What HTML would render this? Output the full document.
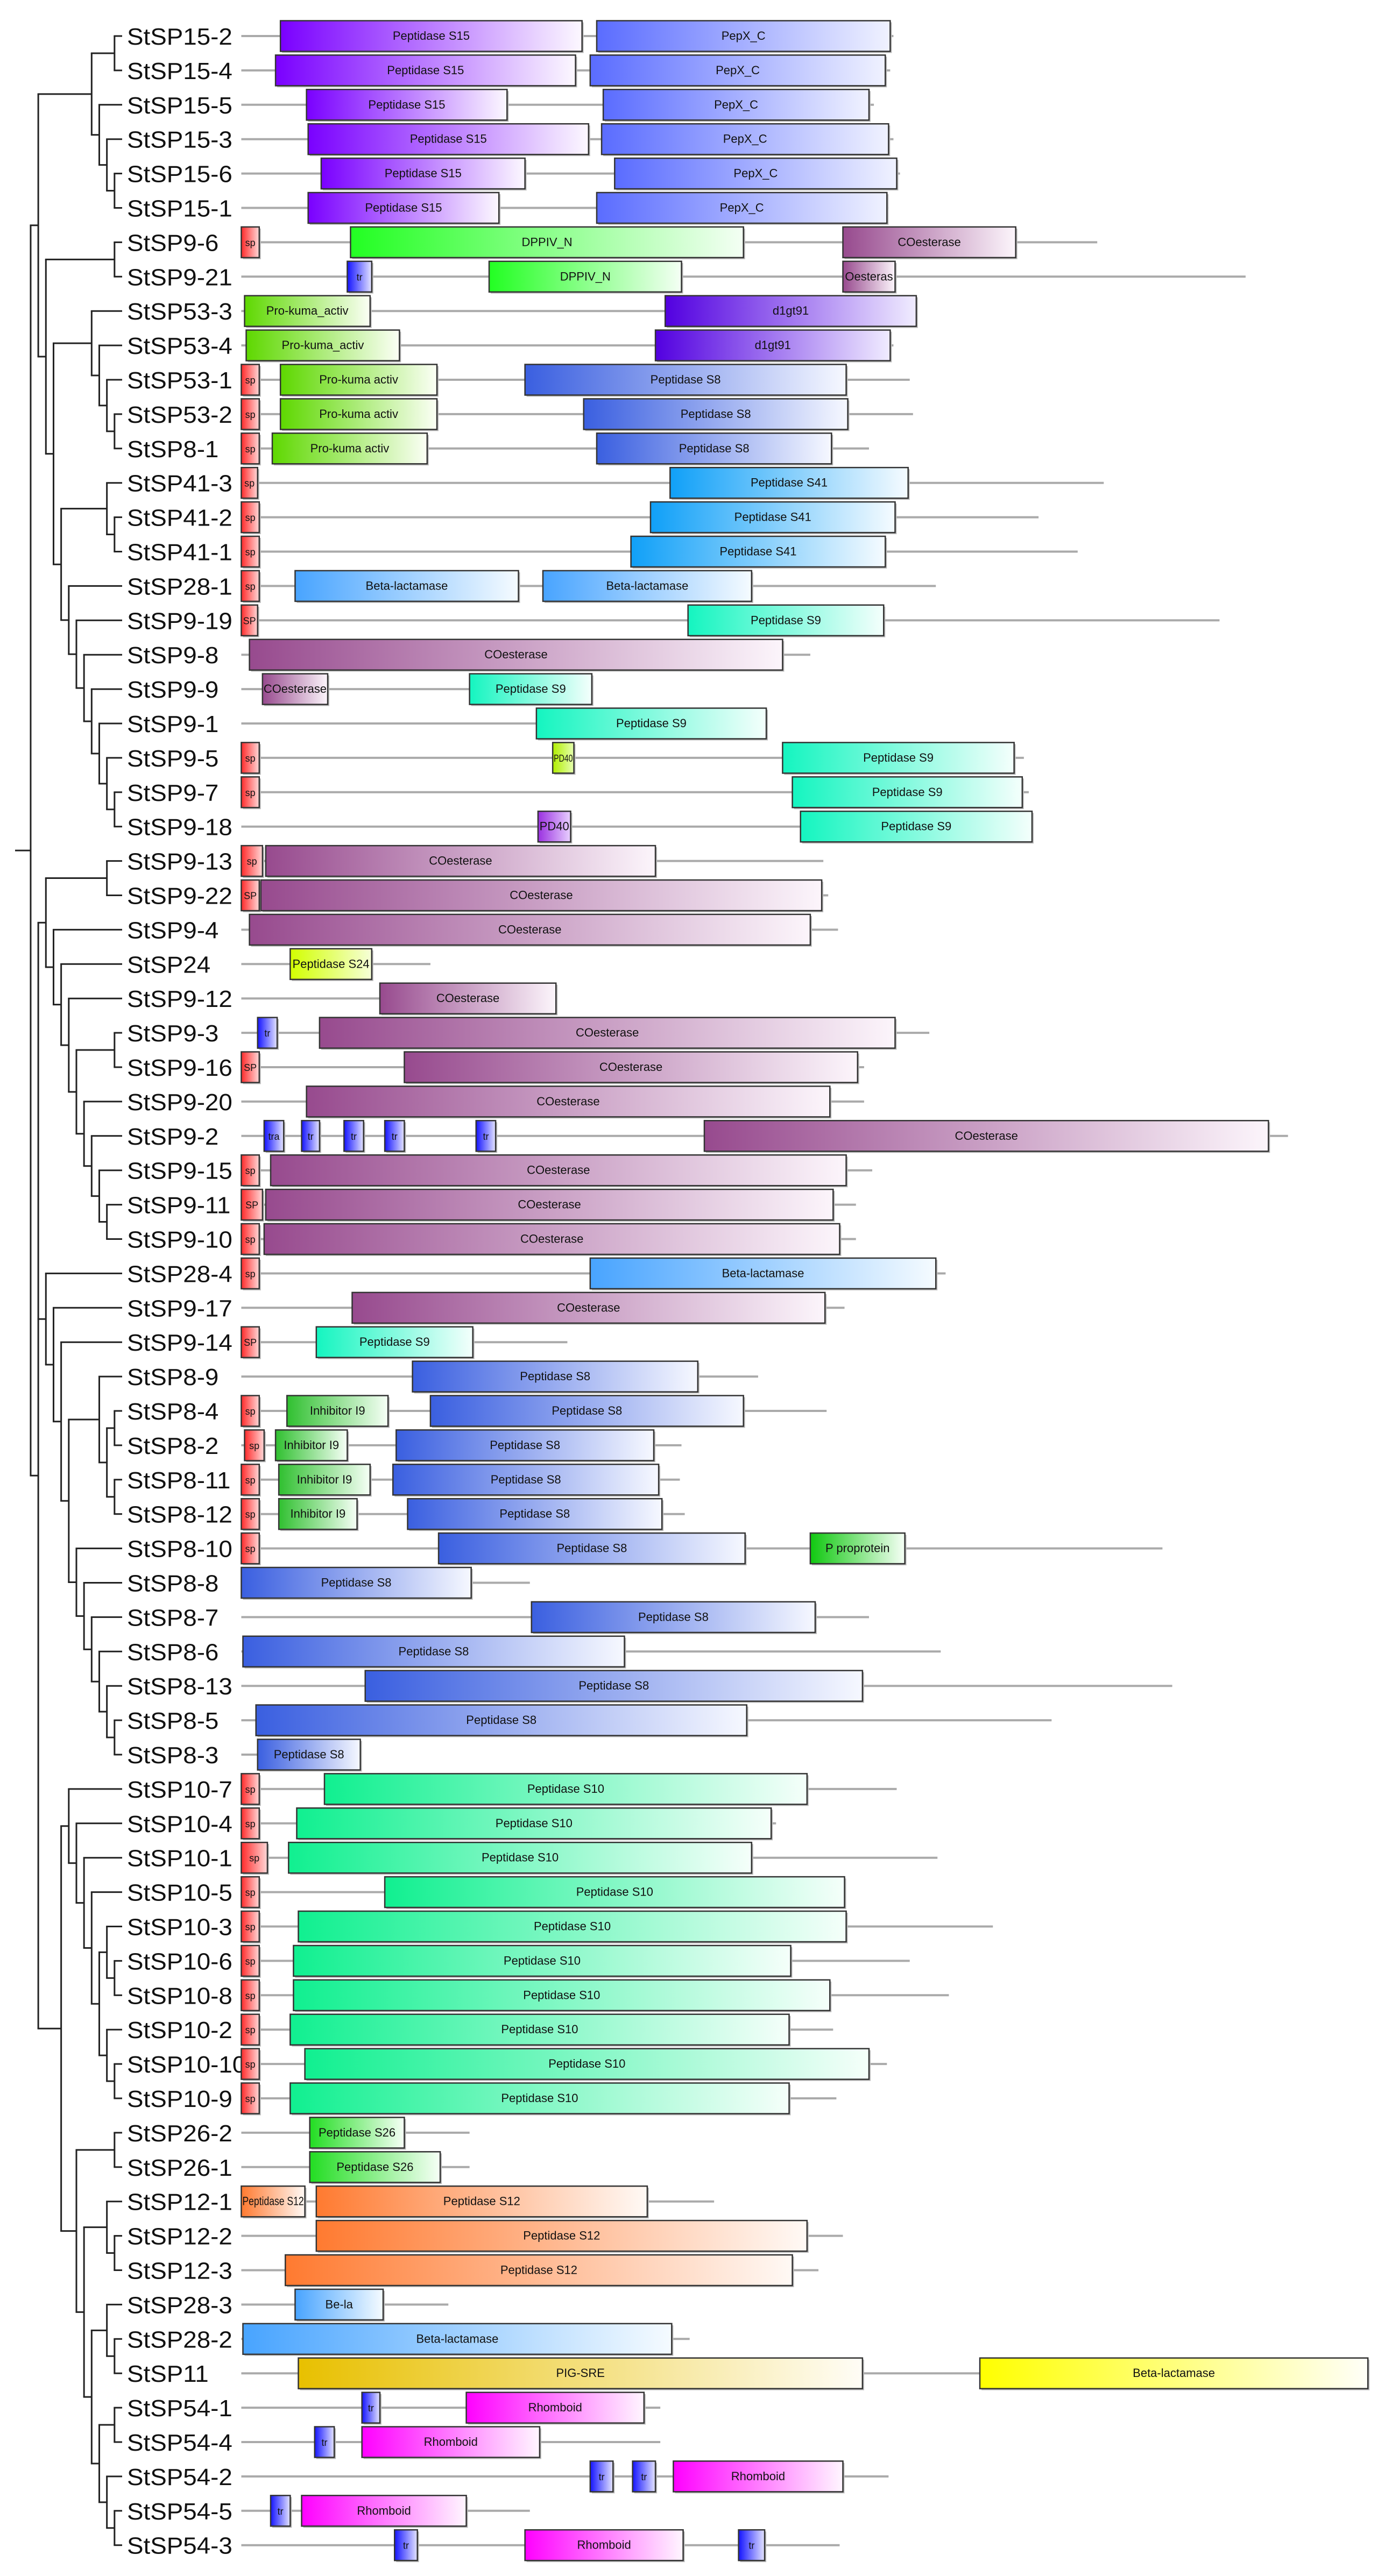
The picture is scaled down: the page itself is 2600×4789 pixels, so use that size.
<!DOCTYPE html>
<html><head><meta charset="utf-8">
<style>
html,body{margin:0;padding:0;background:#fff;}
svg{display:block;}
</style></head>
<body>
<svg id="chart" width="2600" height="4789" viewBox="0 0 2600 4789" xmlns="http://www.w3.org/2000/svg">
<defs id="defs"></defs>
<g id="tree"></g>
<g id="rows"></g>
</svg>
<script>
const geneNames = ["StSP15-2","StSP15-4","StSP15-5","StSP15-3","StSP15-6","StSP15-1","StSP9-6","StSP9-21","StSP53-3","StSP53-4","StSP53-1","StSP53-2","StSP8-1","StSP41-3","StSP41-2","StSP41-1","StSP28-1","StSP9-19","StSP9-8","StSP9-9","StSP9-1","StSP9-5","StSP9-7","StSP9-18","StSP9-13","StSP9-22","StSP9-4","StSP24","StSP9-12","StSP9-3","StSP9-16","StSP9-20","StSP9-2","StSP9-15","StSP9-11","StSP9-10","StSP28-4","StSP9-17","StSP9-14","StSP8-9","StSP8-4","StSP8-2","StSP8-11","StSP8-12","StSP8-10","StSP8-8","StSP8-7","StSP8-6","StSP8-13","StSP8-5","StSP8-3","StSP10-7","StSP10-4","StSP10-1","StSP10-5","StSP10-3","StSP10-6","StSP10-8","StSP10-2","StSP10-10","StSP10-9","StSP26-2","StSP26-1","StSP12-1","StSP12-2","StSP12-3","StSP28-3","StSP28-2","StSP11","StSP54-1","StSP54-4","StSP54-2","StSP54-5","StSP54-3"];
const proteinLength = [548,546,536,548,552,545,673,764,562,548,558,560,533,677,637,661,574,748,497,363,470,628,631,633,505,508,514,264,341,570,530,530,790,535,525,525,580,518,348,465,507,418,417,420,713,325,533,577,719,645,221,550,476,575,518,609,558,582,511,544,513,288,288,438,517,502,275,423,839,405,405,545,325,515];
// [row, start, end, type, label]
const domains = [
[0,172,357,"S15","Peptidase S15"],[0,366,546,"PepX","PepX_C"],
[1,169,353,"S15","Peptidase S15"],[1,362,543,"PepX","PepX_C"],
[2,188,311,"S15","Peptidase S15"],[2,370,533,"PepX","PepX_C"],
[3,189,361,"S15","Peptidase S15"],[3,369,545,"PepX","PepX_C"],
[4,197,322,"S15","Peptidase S15"],[4,377,550,"PepX","PepX_C"],
[5,189,306,"S15","Peptidase S15"],[5,366,544,"PepX","PepX_C"],
[6,148,159,"sp","sp"],[6,215,456,"DPPIV","DPPIV_N"],[6,517,623,"COest","COesterase"],
[7,213,228,"tr","tr"],[7,300,418,"DPPIV","DPPIV_N"],[7,517,549,"COest","Oesteras"],
[8,150,227,"Prokuma","Pro-kuma_activ"],[8,408,562,"d1gt91","d1gt91"],
[9,151,245,"Prokuma","Pro-kuma_activ"],[9,402,546,"d1gt91","d1gt91"],
[10,148,159,"sp","sp"],[10,172,268,"Prokuma","Pro-kuma activ"],[10,322,519,"S8","Peptidase S8"],
[11,148,159,"sp","sp"],[11,172,268,"Prokuma","Pro-kuma activ"],[11,358,520,"S8","Peptidase S8"],
[12,148,159,"sp","sp"],[12,167,262,"Prokuma","Pro-kuma activ"],[12,366,510,"S8","Peptidase S8"],
[13,148,158,"sp","sp"],[13,411,557,"S41","Peptidase S41"],
[14,148,159,"sp","sp"],[14,399,549,"S41","Peptidase S41"],
[15,148,159,"sp","sp"],[15,387,543,"S41","Peptidase S41"],
[16,148,159,"sp","sp"],[16,181,318,"Beta","Beta-lactamase"],[16,333,461,"Beta","Beta-lactamase"],
[17,148,158,"sp","SP"],[17,422,542,"S9","Peptidase S9"],
[18,153,480,"COest","COesterase"],
[19,161,201,"COest","COesterase"],[19,288,363,"S9","Peptidase S9"],
[20,329,470,"S9","Peptidase S9"],
[21,148,159,"sp","sp"],[21,339,352,"PD40","PD40"],[21,480,622,"S9","Peptidase S9"],
[22,148,159,"sp","sp"],[22,486,627,"S9","Peptidase S9"],
[23,330,350,"PD40p","PD40"],[23,491,633,"S9","Peptidase S9"],
[24,148,161,"sp","sp"],[24,163,402,"COest","COesterase"],
[25,148,159,"sp","SP"],[25,160,504,"COest","COesterase"],
[26,153,497,"COest","COesterase"],
[27,178,228,"S24","Peptidase S24"],
[28,233,341,"COest","COesterase"],
[29,158,170,"tr","tr"],[29,196,549,"COest","COesterase"],
[30,148,159,"sp","SP"],[30,248,526,"COest","COesterase"],
[31,188,509,"COest","COesterase"],
[32,162,174,"tr","tra"],[32,185,196,"tr","tr"],[32,211,223,"tr","tr"],[32,236,248,"tr","tr"],[32,292,304,"tr","tr"],[32,432,778,"COest","COesterase"],
[33,148,159,"sp","sp"],[33,166,519,"COest","COesterase"],
[34,148,161,"sp","SP"],[34,163,511,"COest","COesterase"],
[35,148,159,"sp","sp"],[35,162,515,"COest","COesterase"],
[36,148,159,"sp","sp"],[36,362,574,"Beta","Beta-lactamase"],
[37,216,506,"COest","COesterase"],
[38,148,159,"sp","SP"],[38,194,290,"S9","Peptidase S9"],
[39,253,428,"S8","Peptidase S8"],
[40,148,159,"sp","sp"],[40,176,238,"I9","Inhibitor I9"],[40,264,456,"S8","Peptidase S8"],
[41,150,162,"sp","sp"],[41,169,213,"I9","Inhibitor I9"],[41,243,401,"S8","Peptidase S8"],
[42,148,159,"sp","sp"],[42,171,227,"I9","Inhibitor I9"],[42,241,404,"S8","Peptidase S8"],
[43,148,159,"sp","sp"],[43,171,219,"I9","Inhibitor I9"],[43,250,406,"S8","Peptidase S8"],
[44,148,159,"sp","sp"],[44,269,457,"S8","Peptidase S8"],[44,497,555,"Pprot","P proprotein"],
[45,148,289,"S8","Peptidase S8"],
[46,326,500,"S8","Peptidase S8"],
[47,149,383,"S8","Peptidase S8"],
[48,224,529,"S8","Peptidase S8"],
[49,157,458,"S8","Peptidase S8"],
[50,158,221,"S8","Peptidase S8"],
[51,148,159,"sp","sp"],[51,199,495,"S10","Peptidase S10"],
[52,148,159,"sp","sp"],[52,182,473,"S10","Peptidase S10"],
[53,148,164,"sp","sp"],[53,177,461,"S10","Peptidase S10"],
[54,148,159,"sp","sp"],[54,236,518,"S10","Peptidase S10"],
[55,148,159,"sp","sp"],[55,183,519,"S10","Peptidase S10"],
[56,148,159,"sp","sp"],[56,180,485,"S10","Peptidase S10"],
[57,148,159,"sp","sp"],[57,180,509,"S10","Peptidase S10"],
[58,148,159,"sp","sp"],[58,178,484,"S10","Peptidase S10"],
[59,148,159,"sp","sp"],[59,187,533,"S10","Peptidase S10"],
[60,148,159,"sp","sp"],[60,178,484,"S10","Peptidase S10"],
[61,190,248,"S26","Peptidase S26"],
[62,190,270,"S26","Peptidase S26"],
[63,148,187,"S12","Peptidase S12"],[63,194,397,"S12","Peptidase S12"],
[64,194,495,"S12","Peptidase S12"],
[65,175,486,"S12","Peptidase S12"],
[66,181,235,"Beta","Be-la"],
[67,149,412,"Beta","Beta-lactamase"],
[68,183,529,"PIG","PIG-SRE"],[68,601,839,"BetaY","Beta-lactamase"],
[69,222,233,"tr","tr"],[69,286,395,"Rhom","Rhomboid"],
[70,193,205,"tr","tr"],[70,222,331,"Rhom","Rhomboid"],
[71,362,376,"tr","tr"],[71,388,402,"tr","tr"],[71,413,517,"Rhom","Rhomboid"],
[72,166,178,"tr","tr"],[72,185,286,"Rhom","Rhomboid"],
[73,242,256,"tr","tr"],[73,322,419,"Rhom","Rhomboid"],[73,453,469,"tr","tr"]
];
// tree: [level, ...children], leaves are row indices
const treeTop = [11,
 [4,[1,0,1],[3,2,[2,3,[1,4,5]]]],
 [10,[1,6,7],
  [9,[4,8,[3,9,[2,10,[1,11,12]]]],
   [8,[2,13,[1,14,15]],
    [7,16,[6,17,[5,18,[4,19,[3,20,[2,21,[1,22,23]]]]]]]]]]];
const treeBottom = [11,
 [10,[2,24,25],[9,26,[8,27,[7,28,[6,[1,29,30],[5,31,[4,32,[3,33,[2,34,35]]]]]]]]],
 [10,36,[9,37,[8,38,[7,[3,39,[2,[1,40,41],[1,42,43]]],[6,44,[5,45,[4,46,[3,47,[2,48,[1,49,50]]]]]]]]]],
 [8,[7,51,[6,52,[5,53,[4,54,[3,[2,55,[1,56,57]],[2,58,[1,59,60]]]]]]],
    [6,[1,61,62],[5,[2,63,[1,64,65]],[4,[2,66,[1,67,68]],[3,[1,69,70],[2,71,[1,72,73]]]]]]]];
const treeRoot = [12, treeTop, treeBottom];

const typeColors = {S15:["#7a00ff","#fcf8ff"],PepX:["#5a6cff","#f0f2ff"],sp:["#ff2a2a","#ffd8d8"],tr:["#1414ff","#e4e4ff"],
 DPPIV:["#22ff22","#f4fff4"],COest:["#974a8e","#fcf5fb"],Prokuma:["#5ed800","#fbfff5"],d1gt91:["#5200e0","#f0ecff"],
 S8:["#3a5fe0","#f6f8ff"],S41:["#10a0f8","#f5fbff"],Beta:["#48a4ff","#f5fbff"],S9:["#14f5c0","#f4fffc"],PD40:["#b0ee00","#e6ffb0"],
 PD40p:["#9a30e0","#e8d0ff"],S24:["#d2ff00","#f6ffd8"],I9:["#30c030","#f6fff6"],Pprot:["#10c810","#f6fff6"],S10:["#10f090","#f5fffa"],
 S26:["#22dd22","#f6fff6"],S12:["#ff7a30","#fff9f5"],PIG:["#e8c000","#fffdf6"],BetaY:["#ffff00","#fffff8"],Rhom:["#ff00ff","#fff6ff"]};

const NS="http://www.w3.org/2000/svg";
const UNIT=3.03, ROW0=67, ROWH=63.9, LEAFX=227, LEVEL=14.17, BOXH=57;
const xPos = v => v*UNIT;
const yPos = r => ROW0 + r*ROWH;
const levelX = l => LEAFX - l*LEVEL;
function mk(tag, attrs, parent){const e=document.createElementNS(NS,tag);for(const k in attrs)e.setAttribute(k,attrs[k]);parent.appendChild(e);return e;}

const defs=document.getElementById('defs');
for(const t in typeColors){
  const g=mk('linearGradient',{id:'g-'+t,x1:'0',y1:'0',x2:'1',y2:'0'},defs);
  mk('stop',{offset:'0','stop-color':typeColors[t][0]},g);
  mk('stop',{offset:'1','stop-color':typeColors[t][1]},g);
}

const treeG=document.getElementById('tree');
function nodeY(n){ if(typeof n==='number') return yPos(n); const ys=n.slice(1).map(nodeY); return (ys[0]+ys[ys.length-1])/2; }
function nodeX(n){ return typeof n==='number' ? LEAFX : levelX(n[0]); }
function drawNode(n){
  if(typeof n==='number') return;
  const x=levelX(n[0]); const kids=n.slice(1); const ys=kids.map(nodeY);
  const v=mk('line',{x1:x,y1:ys[0],x2:x,y2:ys[ys.length-1],stroke:'#222','stroke-width':3},treeG);
  
  
  kids.forEach((k,i)=>{
    const h=mk('line',{x1:x-1.5,y1:ys[i],x2:nodeX(k),y2:ys[i],stroke:'#222','stroke-width':3},treeG);
    
    
    drawNode(k);
  });
}
drawNode(treeRoot);
const rootStub=mk('line',{x1:28,y1:nodeY(treeRoot),x2:levelX(treeRoot[0]),y2:nodeY(treeRoot),stroke:'#222','stroke-width':3},treeG);



const rowsG=document.getElementById('rows');
geneNames.forEach((name,r)=>{
  const y=yPos(r);
  const g=mk('g',{},rowsG);
  
  
  const t=mk('text',{transform:`translate(236,${y+16}) scale(1.04,1)`,'font-family':'Liberation Sans, sans-serif','font-size':44,fill:'#111'},g);
  t.textContent=name;
  
  
  const ln=mk('line',{x1:xPos(148),y1:y,x2:xPos(proteinLength[r]),y2:y,stroke:'#aaa','stroke-width':4},g);
  
  
});
domains.forEach(d=>{
  const [r,s,e,type,label]=d;
  const y=yPos(r), x0=xPos(s), w=xPos(e)-xPos(s);
  const g=mk('g',{},rowsG);
  
  
  mk('rect',{x:x0+3,y:y-BOXH/2+3,width:w,height:BOXH,fill:'#bbb'},g);
  const rc=mk('rect',{x:x0,y:y-BOXH/2,width:w,height:BOXH,fill:`url(#g-${type})`,stroke:'#333','stroke-width':2.5},g);
  
  
  const fs = (w<50)?18:22;
  const tx=mk('text',{x:x0+w/2,y:y+7,'text-anchor':'middle','font-family':'Liberation Sans, sans-serif','font-size':fs,fill:'#111'},g);
  tx.textContent=label;
  
  
  const len=tx.getComputedTextLength();
  if(len>w-4){tx.setAttribute('textLength',Math.max(w-4,4));tx.setAttribute('lengthAdjust','spacingAndGlyphs');}
});
</script>
</body></html>
